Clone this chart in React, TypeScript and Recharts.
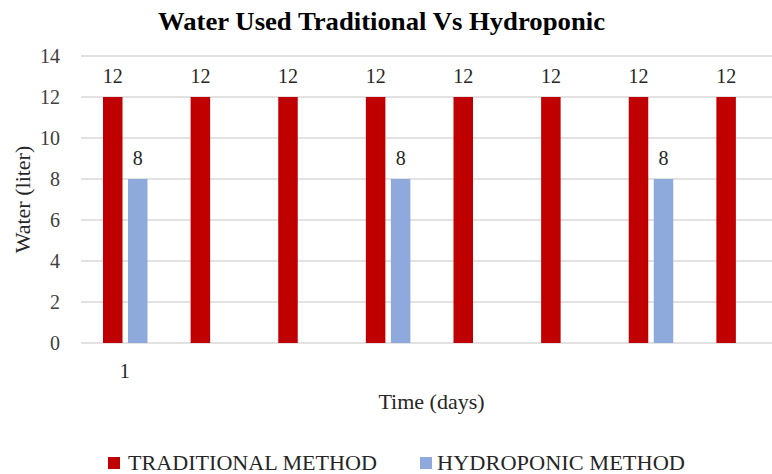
import React from 'react';
import { BarChart, Bar, XAxis, YAxis, CartesianGrid, LabelList, Legend } from 'recharts';

const days = [1, 2, 3, 4, 5, 6, 7, 8];
const dayTickLabels = ['1', '', '', '', '', '', '', ''];
const traditional = [12, 12, 12, 12, 12, 12, 12, 12];
const hydroponic: (number | null)[] = [8, null, null, 8, null, null, 8, null];
const yTicks = [0, 2, 4, 6, 8, 10, 12, 14];

const seriesNames = ['TRADITIONAL METHOD', 'HYDROPONIC METHOD'];
const seriesColors = ['#C00000', '#8EA9DB'];

const data = days.map((d, i) => ({ day: d, traditional: traditional[i], hydroponic: hydroponic[i] }));

const FONT = 'Liberation Serif, Times New Roman, serif';
const fontStyle = { fontFamily: FONT };

const renderValueLabel = (props: any) => {
  const { x, y, width, value } = props;
  if (value === null || value === undefined) return null;
  return (
    <text x={Number(x) + Number(width) / 2} y={Number(y) - 14} textAnchor="middle" style={fontStyle} fontSize={20} fill="#262626">
      {value}
    </text>
  );
};

const renderYLabel = (props: any) => {
  const vb = props.viewBox || {};
  const cx = 22;
  const cy = vb.y + vb.height / 2;
  return (
    <text x={cx} y={cy} transform={`rotate(-90 ${cx} ${cy})`} textAnchor="middle" dominantBaseline="central" style={fontStyle} fontSize={22} fill="#262626">
      Water (liter)
    </text>
  );
};

const renderXLabel = (props: any) => {
  const vb = props.viewBox || {};
  return (
    <text x={vb.x + vb.width / 2} y={409} textAnchor="middle" style={fontStyle} fontSize={22} fill="#262626">
      Time (days)
    </text>
  );
};

const renderLegend = () => (
  <svg width={790} height={26} style={{ display: 'block' }}>
    <rect x={108} y={9} width={12} height={12} fill={seriesColors[0]} />
    <text x={128} y={22} style={fontStyle} fontSize={22} fill="#262626" textLength={249} lengthAdjust="spacingAndGlyphs">
      {seriesNames[0]}
    </text>
    <rect x={420} y={9} width={12} height={12} fill={seriesColors[1]} />
    <text x={437} y={22} style={fontStyle} fontSize={22} fill="#262626" textLength={248} lengthAdjust="spacingAndGlyphs">
      {seriesNames[1]}
    </text>
  </svg>
);

export default function App() {
  return (
    <div style={{ position: 'fixed', left: 0, top: 0, width: 772, height: 474, overflow: 'hidden', background: '#fff', fontFamily: FONT }}>
      <svg width={772} height={44} style={{ position: 'absolute', left: 0, top: 0 }}>
        <text x={158} y={30} style={fontStyle} fontWeight="bold" fontSize={26} fill="#000" textLength={447} lengthAdjust="spacingAndGlyphs">
          Water Used Traditional Vs Hydroponic
        </text>
      </svg>
      <BarChart
        width={790}
        height={474}
        data={data}
        margin={{ top: 56, right: 8, bottom: 0, left: 0 }}
        barSize={19.5}
        barGap={5.5}
        style={fontStyle}
      >
        <CartesianGrid vertical={false} stroke="#D9D9D9" strokeWidth={1.5} />
        <XAxis
          dataKey="day"
          axisLine={false}
          tickLine={false}
          tickSize={0}
          tickMargin={21}
          height={105}
          interval={0}
          tickFormatter={(_v: any, i: number) => dayTickLabels[i]}
          tick={{ style: fontStyle, fontSize: 20, fill: '#262626' }}
          label={{ content: renderXLabel }}
        />
        <YAxis
          width={81}
          domain={[0, 14]}
          ticks={yTicks}
          axisLine={false}
          tickLine={false}
          tickSize={0}
          tickMargin={21}
          tick={{ style: fontStyle, fontSize: 20, fill: '#404040' }}
          label={{ content: renderYLabel }}
        />
        <Legend verticalAlign="bottom" height={26} content={renderLegend} wrapperStyle={{ left: 0, width: 790 }} />
        <Bar dataKey="traditional" name={seriesNames[0]} fill={seriesColors[0]} isAnimationActive={false}>
          <LabelList dataKey="traditional" content={renderValueLabel} />
        </Bar>
        <Bar dataKey="hydroponic" name={seriesNames[1]} fill={seriesColors[1]} isAnimationActive={false}>
          <LabelList dataKey="hydroponic" content={renderValueLabel} />
        </Bar>
      </BarChart>
    </div>
  );
}
